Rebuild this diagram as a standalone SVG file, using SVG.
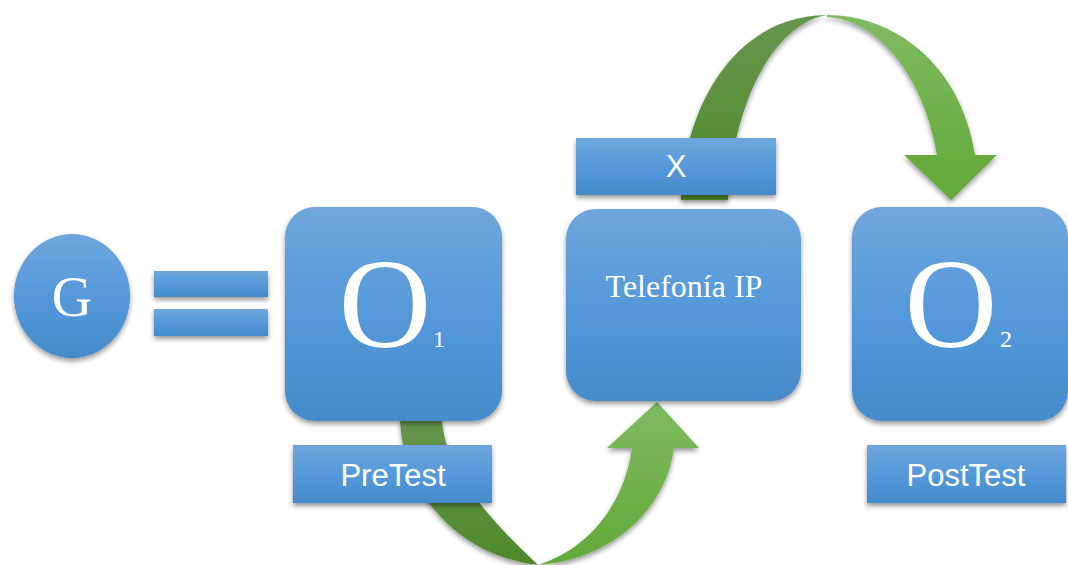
<svg xmlns="http://www.w3.org/2000/svg" width="1068" height="565" viewBox="0 0 1068 565">
  <defs>
    <linearGradient id="blue" x1="0" y1="0" x2="0" y2="1">
      <stop offset="0" stop-color="#70a6dc"/>
      <stop offset="0.5" stop-color="#5599da"/>
      <stop offset="1" stop-color="#458bca"/>
    </linearGradient>
    <linearGradient id="gLight" x1="0" y1="0" x2="0" y2="1">
      <stop offset="0" stop-color="#80ba62"/>
      <stop offset="1" stop-color="#62a838"/>
    </linearGradient>
    <linearGradient id="gDark" x1="0" y1="0" x2="0" y2="1">
      <stop offset="0" stop-color="#67964e"/>
      <stop offset="1" stop-color="#4e8a2b"/>
    </linearGradient>
    <filter id="shadow" x="-10%" y="-10%" width="120%" height="130%">
      <feDropShadow dx="0" dy="3" stdDeviation="2.5" flood-color="#000" flood-opacity="0.4"/>
    </filter>
    <style>
      .box { fill: url(#blue); filter: url(#shadow); }
      .dark { fill: url(#gDark); filter: url(#shadow); }
      .light { fill: url(#gLight); filter: url(#shadow); }
      .serif { font-family: "Liberation Serif", "Times New Roman", serif; fill: #fff; }
      .sans { font-family: "Liberation Sans", Arial, sans-serif; fill: #fff; }
    </style>
  </defs>
  <rect width="1068" height="565" fill="#fff"/>

  <g id="connectors">
    <!-- lower curved arrow: O1 -> Telefonía IP -->
    <path class="dark" d="M400,420 L442,420 C445,470 490,520 538,565 C455,555 403,490 400,420 Z"/>
    <path class="light" d="M538,565 C610,560 666,510 674,448 L699,448 L657,402 L607,448 L632,448 C625,500 592,548 538,565 Z"/>
    <!-- upper curved arrow: Telefonía IP -> O2 -->
    <path class="dark" d="M681,200 C684,100 740,15 827,15 C770,25 732,110 728,200 Z"/>
    <path class="light" d="M827,15 C890,15 960,60 975,155 L997,155 L951,200 L904,155 L937,155 C925,80 880,20 827,17 Z"/>
  </g>

  <g id="node-G">
    <ellipse class="box" cx="72" cy="296" rx="58" ry="62"/>
    <text class="serif" x="72" y="316" font-size="56" text-anchor="middle">G</text>
  </g>

  <g id="node-equals">
    <rect class="box" x="154" y="271" width="114" height="26"/>
    <rect class="box" x="154" y="309" width="114" height="27"/>
  </g>

  <g id="node-O1">
    <rect class="box" x="285" y="207" width="217" height="214" rx="30"/>
    <text class="serif" x="385" y="347" font-size="128" text-anchor="middle">O</text>
    <text class="serif" x="439" y="347" font-size="24" text-anchor="middle">1</text>
  </g>

  <g id="node-PreTest">
    <rect class="box" x="293" y="445" width="199" height="58"/>
    <text class="sans" x="393" y="486" font-size="31" text-anchor="middle">PreTest</text>
  </g>

  <g id="node-X">
    <rect class="box" x="576" y="138" width="200" height="57"/>
    <text class="sans" x="676" y="177" font-size="31" text-anchor="middle">X</text>
  </g>

  <g id="node-Telefonia">
    <rect class="box" x="566" y="209" width="235" height="192" rx="30"/>
    <text class="serif" x="684" y="297" font-size="32" text-anchor="middle">Telefonía IP</text>
  </g>

  <g id="node-O2">
    <rect class="box" x="852" y="207" width="216" height="214" rx="30"/>
    <text class="serif" x="951" y="347" font-size="128" text-anchor="middle">O</text>
    <text class="serif" x="1006" y="347" font-size="24" text-anchor="middle">2</text>
  </g>

  <g id="node-PostTest">
    <rect class="box" x="867" y="445" width="199" height="58"/>
    <text class="sans" x="966" y="486" font-size="31" text-anchor="middle">PostTest</text>
  </g>
</svg>
